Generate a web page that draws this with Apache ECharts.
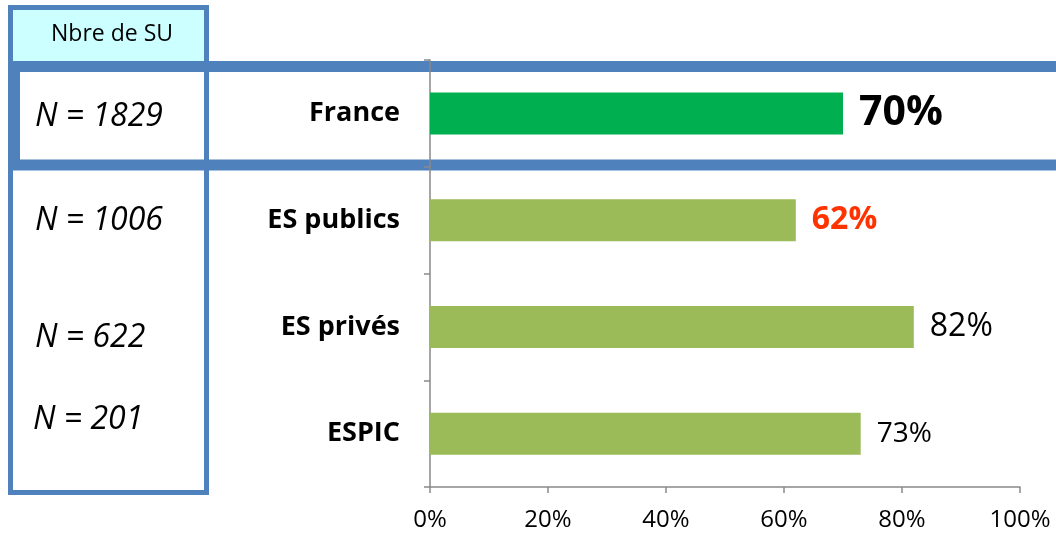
<!DOCTYPE html>
<html>
<head>
<meta charset="utf-8">
<script src="https://cdn.jsdelivr.net/npm/echarts@6/dist/echarts.min.js"></script>
<style>
  html, body { margin: 0; padding: 0; background: #ffffff; }
  #chart { width: 1056px; height: 533px; }
</style>
</head>
<body>
<div id="chart"></div>
<script>
// ---- data ----
var categories = ['France', 'ES publics', 'ES privés', 'ESPIC'];
var values = [70, 62, 82, 73];
var nCounts = [1829, 1006, 622, 201];
var xTicks = [0, 20, 40, 60, 80, 100];
var headerText = 'Nbre de SU';

// ---- styles (kept separate from data) ----
var FONT = '"Open Sans", "Noto Sans", sans-serif';
var BLUE = '#4f81bd';
var barColors = ['#00b050', '#9bbb59', '#9bbb59', '#9bbb59'];
var labelStyles = [
  { fontSize: 41, fontWeight: 'bold', color: '#000000' },
  { fontSize: 32, fontWeight: 'bold', color: '#ff3300' },
  { fontSize: 32, fontWeight: 'normal', color: '#000000' },
  { fontSize: 28, fontWeight: 'normal', color: '#000000' }
];
var nLabelPos = [[35, 117], [35, 221], [35, 338], [33, 420]];

var chart = echarts.init(document.getElementById('chart'), null, { renderer: 'canvas' });

var seriesData = values.map(function (v, i) {
  return {
    value: v,
    itemStyle: { color: barColors[i] },
    label: {
      show: true,
      position: 'right',
      distance: 16,
      fontFamily: FONT,
      fontSize: labelStyles[i].fontSize,
      fontWeight: labelStyles[i].fontWeight,
      color: labelStyles[i].color,
      formatter: '{c}%'
    }
  };
});

var graphics = [
  // header cell fill
  { type: 'rect', z: -20, shape: { x: 10.5, y: 7.5, width: 196, height: 56 },
    style: { fill: '#ccffff', stroke: null } },
  // left column box
  { type: 'rect', z: -10, shape: { x: 10.5, y: 7.5, width: 196, height: 485 },
    style: { fill: null, stroke: BLUE, lineWidth: 5 } },
  // thick frame around France row
  { type: 'rect', z: -10, shape: { x: 14.5, y: 66.5, width: 1100, height: 98.5 },
    style: { fill: null, stroke: BLUE, lineWidth: 11 } },
  // header text
  { type: 'text', z: 10, x: 112, y: 34,
    style: { text: headerText, fontFamily: FONT, fontSize: 23, fill: '#000000',
             textAlign: 'center', textVerticalAlign: 'middle' } }
];
nCounts.forEach(function (n, i) {
  graphics.push({
    type: 'text', z: 10, x: nLabelPos[i][0], y: nLabelPos[i][1],
    style: { text: 'N = ' + n, fontFamily: FONT, fontSize: 32, fontStyle: 'italic',
             fill: '#000000', textAlign: 'left', textVerticalAlign: 'middle' }
  });
});

var option = {
  backgroundColor: '#ffffff',
  animation: false,
  grid: { left: 430, right: 36, top: 60, bottom: 46, containLabel: false, outerBoundsMode: 'none' },
  xAxis: {
    type: 'value',
    min: xTicks[0],
    max: xTicks[xTicks.length - 1],
    interval: xTicks[1] - xTicks[0],
    axisLine: { show: true, lineStyle: { color: '#898989', width: 1.5 } },
    axisTick: { show: true, length: 6, lineStyle: { color: '#898989', width: 1.5 } },
    splitLine: { show: false },
    axisLabel: { formatter: '{value}%', fontFamily: FONT, fontSize: 24, color: '#000000', margin: 21 }
  },
  yAxis: {
    type: 'category',
    inverse: true,
    data: categories,
    axisLine: { show: true, lineStyle: { color: '#898989', width: 1.5 } },
    axisTick: { show: true, length: 6, lineStyle: { color: '#898989', width: 1.5 } },
    axisLabel: { fontFamily: FONT, fontSize: 27, fontWeight: 'bold', color: '#000000', margin: 30 }
  },
  series: [{
    type: 'bar',
    data: seriesData,
    barWidth: 42,
    z: 5
  }],
  graphic: graphics
};

chart.setOption(option);
</script>
</body>
</html>
